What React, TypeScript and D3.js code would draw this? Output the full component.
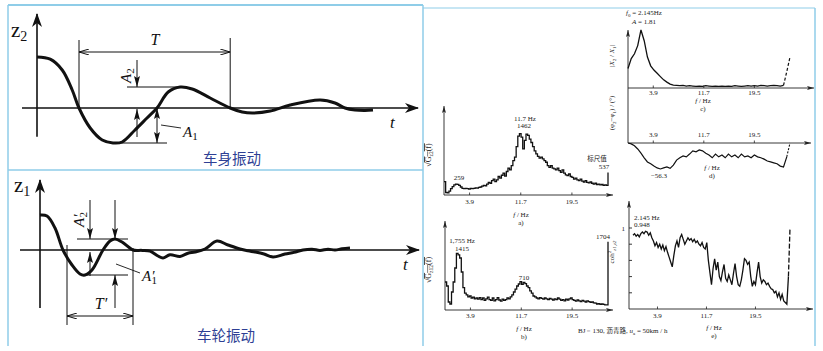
import * as d3 from 'd3';

// time-domain sketches on the left (t in arbitrary units, z relative)
const bodyT = [0, 0.33, 0.63, 0.88, 1.05, 1.33, 1.63, 1.9, 2.13, 2.45, 2.75, 3.0, 3.28, 3.58, 3.88, 4.33, 4.83, 5.13, 5.4, 5.83, 6.33, 7.08, 7.45, 7.7, 7.95, 8.2, 8.4];
const bodyZ = [1.275, 1.22, 0.95, 0.45, 0, -0.5, -0.8, -0.875, -0.85, -0.55, -0.25, 0, 0.4, 0.525, 0.475, 0.25, 0, -0.1, -0.125, -0.075, 0.075, 0.2, 0.125, 0, -0.05, -0.06, -0.05];
const bodyPeriod = [1.05, 4.83];
const bodyAmp = [-0.875, 0.525];

const wheelT = [0, 0.175, 0.375, 0.575, 0.8, 1.0, 1.125, 1.3, 1.575, 1.75, 1.875, 2.05, 2.325, 2.55, 2.75, 2.95, 3.075, 3.25, 3.5, 3.7, 3.875, 4.125, 4.425, 4.7, 5.0, 5.2, 5.375, 5.6, 5.825, 6.125, 6.35, 6.575, 6.8, 7.0, 7.2, 7.375, 7.55, 7.75];
const wheelZ = [0.875, 0.85, 0.55, 0, -0.375, -0.6, -0.625, -0.5, 0, 0.225, 0.275, 0.2, 0, -0.01, -0.03, -0.15, -0.2, -0.12, -0.16, -0.08, -0.05, 0.025, 0.225, 0.125, 0.025, -0.02, -0.05, -0.1, -0.175, -0.1, -0.06, 0, 0.02, -0.01, 0.02, 0, 0.03, 0.05];
const wheelPeriod = [0.675, 2.325];
const wheelAmp = [-0.625, 0.275];

// spectra on the right, 0..25 Hz (0.25 Hz steps for a, b, e; 0.5 Hz for c, d)
const psdA = [
  320, 60, 50, 90, 150, 200, 240, 259, 255, 230,
  190, 160, 150, 160, 150, 140, 155, 150, 160, 170,
  165, 180, 190, 210, 230, 220, 260, 300, 280, 340,
  380, 320, 360, 440, 400, 470, 520, 450, 560, 640,
  600, 700, 820, 900, 1150, 1400, 1462, 1380, 1100, 1300,
  1450, 1420, 1330, 1250, 1150, 1050, 980, 920, 880, 900,
  860, 820, 780, 700, 660, 700, 640, 620, 600, 640,
  580, 540, 600, 520, 480, 460, 500, 440, 420, 380,
  400, 360, 340, 380, 330, 310, 340, 300, 290, 310,
  280, 260, 280, 250, 260, 240, 250, 230, 240, 230,
  537,
];
const psdB = [
  700, 600, 200, 150, 450, 700, 1050, 1415, 1380, 1300,
  950, 560, 420, 380, 330, 350, 300, 320, 280, 300,
  270, 310, 260, 300, 240, 280, 320, 260, 240, 300,
  230, 260, 310, 250, 220, 270, 240, 260, 300, 280,
  330, 380, 450, 520, 600, 650, 710, 640, 690, 660,
  600, 560, 480, 420, 350, 330, 300, 280, 310, 290,
  270, 300, 280, 260, 290, 270, 250, 280, 260, 300,
  270, 240, 260, 230, 270, 250, 280, 300, 260, 240,
  220, 250, 230, 210, 240, 220, 200, 230, 210, 190,
  200, 180, 170, 150, 160, 140, 150, 140, 130, 130,
  1704,
];
const ampC = [
  0.6, 0.9, 1.05, 1.3, 1.78, 1.45, 0.95, 0.68, 0.55, 0.45,
  0.35, 0.25, 0.18, 0.12, 0.09, 0.08, 0.07, 0.08, 0.06, 0.07,
  0.06, 0.05, 0.06, 0.05, 0.07, 0.06, 0.05, 0.06, 0.05, 0.06,
  0.05, 0.06, 0.05, 0.07, 0.06, 0.05, 0.06, 0.07, 0.06, 0.07,
  0.06, 0.08, 0.07, 0.06, 0.07, 0.08, 0.07, 0.06, 0.08, 0.5,
  0.95,
];
const phaseD = [
  0, -2, -6, -13, -22, -32, -41, -45, -50, -54,
  -56.3, -54, -52, -55, -48, -37, -32, -28, -30, -24,
  -17, -19, -15, -17, -22, -26, -32, -24, -30, -26,
  -32, -24, -30, -26, -32, -24, -30, -28, -32, -26,
  -30, -32, -35, -39, -41, -43, -45, -50, -52, -30,
  0,
];
const cohE = [
  0.91, 0.93, 0.9, 0.92, 0.89, 0.93, 0.95, 0.93, 0.96, 0.95,
  0.91, 0.94, 0.88, 0.84, 0.78, 0.82, 0.76, 0.8, 0.74, 0.79,
  0.72, 0.77, 0.7, 0.64, 0.58, 0.52, 0.66, 0.78, 0.84, 0.76,
  0.88, 0.92, 0.86, 0.8, 0.84, 0.88, 0.85, 0.87, 0.83, 0.86,
  0.82, 0.84, 0.8, 0.78, 0.82, 0.76, 0.74, 0.82, 0.6, 0.45,
  0.3, 0.5, 0.62, 0.48, 0.58, 0.4, 0.35, 0.46, 0.55, 0.38,
  0.34, 0.42, 0.36, 0.3, 0.44, 0.56, 0.4, 0.3, 0.28, 0.36,
  0.48, 0.62, 0.6, 0.55, 0.58, 0.4, 0.28, 0.34, 0.3, 0.45,
  0.58, 0.4, 0.32, 0.36, 0.34, 0.3, 0.32, 0.28, 0.25, 0.24,
  0.2, 0.22, 0.15, 0.2, 0.12, 0.18, 0.1, 0.08, 0.06, 0.4,
  1.0,
];
const freqTicks = [3.9, 11.7, 19.5];
const cohTicks = [0.2, 0.4, 0.6, 0.8, 1];

const serif = '"Liberation Serif", "DejaVu Serif", serif';
const cjk = '"Noto Sans CJK SC", sans-serif';
const frame = '#8fcde8';
const caption = '#2e3f94';

export default function App() {
  const fineF = psdA.map((_, i) => i * 0.25);
  const coarseF = ampC.map((_, i) => i * 0.5);

  // left top: body
  const xT = d3.scaleLinear().domain([0, 9.5]).range([37, 417]);
  const yT = d3.scaleLinear().domain([0, 1]).range([108, 68]);
  const bodyPath = d3.line<number>()
    .x((_, i) => xT(bodyT[i]))
    .y((d) => yT(d))
    .curve(d3.curveCatmullRom.alpha(0.5))(bodyZ)!;

  // left bottom: wheel
  const xW = d3.scaleLinear().domain([0, 9.5]).range([40, 420]);
  const yW = d3.scaleLinear().domain([0, 1]).range([250, 210]);
  const wheelPath = d3.line<number>()
    .x((_, i) => xW(wheelT[i]))
    .y((d) => yW(d))
    .curve(d3.curveCatmullRom.alpha(0.5))(wheelZ)!;

  // right plots
  const xA = d3.scaleLinear().domain([0, 25]).range([444, 608]);
  const yA = d3.scaleLinear().domain([0, 1800]).range([195, 119.4]);
  const xB = d3.scaleLinear().domain([0, 25]).range([445, 608]);
  const yB = d3.scaleLinear().domain([0, 1800]).range([310, 238]);
  const xC = d3.scaleLinear().domain([0, 25]).range([628, 790]);
  const yC = d3.scaleLinear().domain([0, 2]).range([88, 22.8]);
  const yD = d3.scaleLinear().domain([-60, 0]).range([170.7, 143]);
  const xE = d3.scaleLinear().domain([0, 25]).range([633, 790]);
  const yE = d3.scaleLinear().domain([0, 1]).range([309, 228]);

  const stepLine = (x: d3.ScaleLinear<number, number>, y: d3.ScaleLinear<number, number>, f: number[]) =>
    d3.line<number>().x((_, i) => x(f[i])).y((d) => y(d)).curve(d3.curveStepAfter);
  const plainLine = (x: d3.ScaleLinear<number, number>, y: d3.ScaleLinear<number, number>, f: number[], off = 0) =>
    d3.line<number>().x((_, i) => x(f[i + off])).y((d) => y(d));

  const aPath = stepLine(xA, yA, fineF)(psdA)!;
  const bPath = stepLine(xB, yB, fineF)(psdB)!;
  const cSolid = plainLine(xC, yC, coarseF)(ampC.slice(0, 49))!;
  const cDash = plainLine(xC, yC, coarseF, 48)(ampC.slice(48))!;
  const dSolid = plainLine(xC, yD, coarseF)(phaseD.slice(0, 50))!;
  const dDash = plainLine(xC, yD, coarseF, 49)(phaseD.slice(49))!;
  const eSolid = plainLine(xE, yE, fineF)(cohE.slice(0, 100))!;
  const eDash = plainLine(xE, yE, fineF, 99)(cohE.slice(99))!;

  const small = { fontFamily: serif, fontSize: 7, fill: '#222' } as const;

  const fAxisLabel = (x: number, y: number, tag: string) => (
    <g>
      <text x={x} y={y} textAnchor="middle" style={small}>
        <tspan fontStyle="italic">f</tspan> / Hz
      </text>
      <text x={x} y={y + 8} textAnchor="middle" style={small}>{tag}</text>
    </g>
  );

  const tickRow = (x: d3.ScaleLinear<number, number>, y0: number, labelY: number) =>
    freqTicks.map((t) => (
      <g key={t}>
        <line x1={x(t)} x2={x(t)} y1={y0} y2={y0 - 2.5} stroke="#222" strokeWidth={0.8} />
        <text x={x(t)} y={labelY} textAnchor="middle" style={small}>{t.toFixed(1)}</text>
      </g>
    ));

  return (
    <svg width={823} height={351} style={{ position: 'absolute', left: 0, top: 0, background: '#fff' }}>
      <defs>
        <marker id="axHead" viewBox="0 0 14 10" markerWidth={14} markerHeight={10} refX={13} refY={5} orient="auto" markerUnits="userSpaceOnUse">
          <path d="M0,0 L14,5 L0,10 L4,5 Z" fill="#111" />
        </marker>
        <marker id="dimHead" viewBox="0 0 10 6" markerWidth={10} markerHeight={6} refX={10} refY={3} orient="auto-start-reverse" markerUnits="userSpaceOnUse">
          <path d="M0,0 L10,3 L0,6" fill="none" stroke="#111" strokeWidth={1} />
        </marker>
        <marker id="ampHead" viewBox="0 0 11 6" markerWidth={11} markerHeight={6} refX={11} refY={3} orient="auto-start-reverse" markerUnits="userSpaceOnUse">
          <path d="M0,0 L11,3 L0,6 L2,3 Z" fill="#111" />
        </marker>
        <marker id="tinyHead" viewBox="0 0 7 4" markerWidth={7} markerHeight={4} refX={7} refY={2} orient="auto" markerUnits="userSpaceOnUse">
          <path d="M0,0 L7,2 L0,4 L1.5,2 Z" fill="#222" />
        </marker>
      </defs>

      {/* frames */}
      <g stroke={frame} fill="none">
        <line x1={8} x2={423} y1={5} y2={5} strokeWidth={2} />
        <line x1={8} x2={8} y1={5} y2={346} strokeWidth={1.5} />
        <line x1={423} x2={423} y1={5} y2={346} strokeWidth={1.5} />
        <line x1={8} x2={423} y1={170} y2={170} strokeWidth={1.5} />
        <line x1={423} x2={815} y1={8} y2={8} strokeWidth={1} />
        <line x1={815} x2={815} y1={8} y2={346} strokeWidth={1.5} />
      </g>

      {/* ---------- body vibration ---------- */}
      <g stroke="#111" fill="none">
        <line x1={xT(0)} x2={xT(0)} y1={yT(-0.72)} y2={14} strokeWidth={1.6} markerEnd="url(#axHead)" />
        <line x1={22} x2={418} y1={yT(0)} y2={yT(0)} strokeWidth={1.4} markerEnd="url(#axHead)" />
        <path d={bodyPath} strokeWidth={3} />
        <line x1={xT(bodyPeriod[0])} x2={xT(bodyPeriod[0])} y1={yT(1.7)} y2={yT(0)} strokeWidth={1} />
        <line x1={xT(bodyPeriod[1])} x2={xT(bodyPeriod[1])} y1={yT(1.75)} y2={yT(0)} strokeWidth={1} />
        <line x1={xT(bodyPeriod[0])} x2={xT(bodyPeriod[1])} y1={yT(1.4)} y2={yT(1.4)} strokeWidth={1}
          markerStart="url(#dimHead)" markerEnd="url(#dimHead)" />
        <line x1={127} x2={xT(3.58)} y1={yT(bodyAmp[1])} y2={yT(bodyAmp[1])} strokeWidth={1} />
        <line x1={137} x2={137} y1={60} y2={yT(bodyAmp[1])} strokeWidth={1} markerEnd="url(#ampHead)" />
        <line x1={137} x2={137} y1={137} y2={yT(0) + 1} strokeWidth={1} markerEnd="url(#ampHead)" />
        <line x1={120} x2={167} y1={yT(bodyAmp[0])} y2={yT(bodyAmp[0])} strokeWidth={1} />
        <line x1={157} x2={157} y1={yT(0)} y2={yT(bodyAmp[0])} strokeWidth={1}
          markerStart="url(#ampHead)" markerEnd="url(#ampHead)" />
        <line x1={161} x2={181} y1={125} y2={128} strokeWidth={0.9} />
      </g>
      <g fontFamily={serif} fill="#111">
        <text x={11} y={37} fontSize={21}>z<tspan fontSize={14} dy={4}>2</tspan></text>
        <text x={155} y={45} fontSize={16} fontStyle="italic" textAnchor="middle">T</text>
        <text x={390} y={128} fontSize={17} fontStyle="italic">t</text>
        <text x={183} y={137} fontSize={15} fontStyle="italic">A<tspan fontSize={11} dy={3} fontStyle="normal">1</tspan></text>
        <text transform="translate(131,83) rotate(-90)" fontSize={15} fontStyle="italic">A<tspan fontSize={11} dy={3} fontStyle="normal">2</tspan></text>
      </g>
      <text x={232} y={164} textAnchor="middle" fontFamily={cjk} fontSize={14.5} fill={caption}>车身振动</text>

      {/* ---------- wheel vibration ---------- */}
      <g stroke="#111" fill="none">
        <line x1={xW(0)} x2={xW(0)} y1={308} y2={180} strokeWidth={1.6} markerEnd="url(#axHead)" />
        <line x1={20} x2={419} y1={yW(0)} y2={yW(0)} strokeWidth={1.4} markerEnd="url(#axHead)" />
        <path d={wheelPath} strokeWidth={3} />
        <line x1={xW(wheelPeriod[0])} x2={xW(wheelPeriod[0])} y1={245} y2={325} strokeWidth={1} />
        <line x1={xW(wheelPeriod[1])} x2={xW(wheelPeriod[1])} y1={248} y2={325} strokeWidth={1} />
        <line x1={xW(wheelPeriod[0])} x2={xW(wheelPeriod[1])} y1={316} y2={316} strokeWidth={1}
          markerStart="url(#dimHead)" markerEnd="url(#dimHead)" />
        <line x1={77} x2={128} y1={yW(wheelAmp[1])} y2={yW(wheelAmp[1])} strokeWidth={1} />
        <line x1={85} x2={128} y1={yW(wheelAmp[0])} y2={yW(wheelAmp[0])} strokeWidth={1} />
        <line x1={90} x2={90} y1={200} y2={yW(wheelAmp[1])} strokeWidth={1} markerEnd="url(#ampHead)" />
        <line x1={90} x2={90} y1={276} y2={252} strokeWidth={1} markerEnd="url(#ampHead)" />
        <line x1={115} x2={115} y1={200} y2={yW(wheelAmp[1])} strokeWidth={1} markerEnd="url(#ampHead)" />
        <line x1={115} x2={115} y1={308} y2={yW(wheelAmp[0])} strokeWidth={1} markerEnd="url(#ampHead)" />
        <line x1={116} x2={140} y1={264} y2={273} strokeWidth={0.9} />
      </g>
      <g fontFamily={serif} fill="#111">
        <text x={14} y={192} fontSize={21}>z<tspan fontSize={14} dy={4}>1</tspan></text>
        <text x={101} y={309} fontSize={16} fontStyle="italic" textAnchor="middle">T′</text>
        <text x={403} y={270} fontSize={17} fontStyle="italic">t</text>
        <text x={142} y={281} fontSize={15} fontStyle="italic">A′<tspan fontSize={11} dy={3} dx={-3} fontStyle="normal">1</tspan></text>
        <text transform="translate(84,227) rotate(-90)" fontSize={15} fontStyle="italic">A′<tspan fontSize={11} dy={3} dx={-3} fontStyle="normal">2</tspan></text>
      </g>
      <text x={226} y={341} textAnchor="middle" fontFamily={cjk} fontSize={14.5} fill={caption}>车轮振动</text>

      {/* ---------- a) ---------- */}
      <g stroke="#222" fill="none" strokeWidth={0.9}>
        <line x1={xA(0)} x2={xA(0)} y1={yA(0)} y2={106} markerEnd="url(#tinyHead)" />
        <line x1={xA(0)} x2={613} y1={yA(0)} y2={yA(0)} markerEnd="url(#tinyHead)" />
        <path d={aPath} strokeWidth={1.3} stroke="#111" />
      </g>
      {tickRow(xA, yA(0), 204)}
      {fAxisLabel(521, 217, 'a)')}
      <text x={525} y={121} textAnchor="middle" style={small}>11.7 Hz</text>
      <text x={524} y={128} textAnchor="middle" style={small}>1462</text>
      <text x={459} y={180} textAnchor="middle" style={small}>259</text>
      <text x={597} y={161} textAnchor="middle" fontFamily={cjk} fontSize={6.5} fill="#222">标尺值</text>
      <text x={604} y={169} textAnchor="middle" style={small}>537</text>
      <text transform="translate(431,155) rotate(-90)" textAnchor="middle" style={{ ...small, fontSize: 8 }}>
        √<tspan textDecoration="overline">G<tspan fontSize={5.5} dy={1.5}>z2</tspan><tspan dy={-1.5}>(f)</tspan></tspan>
      </text>

      {/* ---------- b) ---------- */}
      <g stroke="#222" fill="none" strokeWidth={0.9}>
        <line x1={xB(0)} x2={xB(0)} y1={yB(0)} y2={221} markerEnd="url(#tinyHead)" />
        <line x1={xB(0)} x2={613} y1={yB(0)} y2={yB(0)} markerEnd="url(#tinyHead)" />
        <path d={bPath} strokeWidth={1.3} stroke="#111" />
      </g>
      {tickRow(xB, yB(0), 318)}
      {fAxisLabel(524, 331, 'b)')}
      <text x={462} y={243} textAnchor="middle" style={small}>1,755 Hz</text>
      <text x={462} y={251} textAnchor="middle" style={small}>1415</text>
      <text x={524} y={280} textAnchor="middle" style={small}>710</text>
      <text x={603} y={239} textAnchor="middle" style={small}>1704</text>
      <text transform="translate(431,270) rotate(-90)" textAnchor="middle" style={{ ...small, fontSize: 8 }}>
        √<tspan textDecoration="overline">G<tspan fontSize={5.5} dy={1.5}>z12</tspan><tspan dy={-1.5}>(f)</tspan></tspan>
      </text>
      <text x={578} y={333} style={small}>
        BJ－130, <tspan fontFamily={cjk} fontSize={6.5}>沥青路</tspan>, <tspan fontStyle="italic">u</tspan><tspan fontSize={5} dy={1.5}>a</tspan><tspan dy={-1.5}> = 50km / h</tspan>
      </text>

      {/* ---------- c) and d) ---------- */}
      <g stroke="#222" fill="none" strokeWidth={0.9}>
        <line x1={xC(0)} x2={xC(0)} y1={yD(0)} y2={30} markerEnd="url(#tinyHead)" />
        <line x1={xC(0)} x2={814} y1={yC(0)} y2={yC(0)} markerEnd="url(#tinyHead)" />
        <line x1={xC(0)} x2={811} y1={yD(0)} y2={yD(0)} markerEnd="url(#tinyHead)" />
        <path d={cSolid} strokeWidth={1.3} stroke="#111" />
        <path d={cDash} strokeWidth={1.2} stroke="#111" strokeDasharray="3 2" />
        <path d={dSolid} strokeWidth={1.2} stroke="#111" />
        <path d={dDash} strokeWidth={1.1} stroke="#111" strokeDasharray="2 1.5" />
      </g>
      {tickRow(xC, yC(0), 95)}
      {tickRow(xC, yD(0), 137)}
      {fAxisLabel(703, 103, 'c)')}
      {fAxisLabel(712, 170, 'd)')}
      <text x={626} y={15} style={small}>
        <tspan fontStyle="italic">f</tspan><tspan fontSize={5} dy={1.5}>0</tspan><tspan dy={-1.5}> = 2.145Hz</tspan>
      </text>
      <text x={632} y={24} style={small}><tspan fontStyle="italic">A</tspan> = 1.81</text>
      <text x={659} y={178} textAnchor="middle" style={small}>−56.3</text>
      <text transform="translate(614,56) rotate(-90)" textAnchor="middle" style={small}>
        |<tspan fontStyle="italic">X</tspan><tspan fontSize={5} dy={1.5}>2</tspan><tspan dy={-1.5}> / </tspan><tspan fontStyle="italic">X</tspan><tspan fontSize={5} dy={1.5}>1</tspan><tspan dy={-1.5}>|</tspan>
      </text>
      <text transform="translate(614,113) rotate(-90)" textAnchor="middle" style={small}>
        (φ<tspan fontSize={5} dy={1.5}>2</tspan><tspan dy={-1.5}>−φ</tspan><tspan fontSize={5} dy={1.5}>1</tspan><tspan dy={-1.5}>) / (°)</tspan>
      </text>

      {/* ---------- e) ---------- */}
      <g stroke="#222" fill="none" strokeWidth={0.9}>
        <line x1={629} x2={629} y1={yE(0)} y2={201} markerEnd="url(#tinyHead)" />
        <line x1={629} x2={813} y1={yE(0)} y2={yE(0)} markerEnd="url(#tinyHead)" />
        {cohTicks.map((c) => (
          <line key={c} x1={629} x2={632} y1={yE(c)} y2={yE(c)} />
        ))}
        <path d={eSolid} strokeWidth={1.3} stroke="#111" />
        <path d={eDash} strokeWidth={1.3} stroke="#111" strokeDasharray="5 2" />
      </g>
      {tickRow(xE, yE(0), 318)}
      {fAxisLabel(714, 330, 'e)')}
      <text x={625} y={231} textAnchor="end" style={small}>1</text>
      <text x={634} y={220} style={small}>2.145 Hz</text>
      <text x={634} y={227} style={small}>0.948</text>
      <text transform="translate(614,252) rotate(-90)" textAnchor="middle" style={small}>
        coh<tspan fontSize={5} dy={-3}>2</tspan><tspan fontSize={5} dy={5} fontStyle="italic">z1,z2</tspan>
      </text>
    </svg>
  );
}
